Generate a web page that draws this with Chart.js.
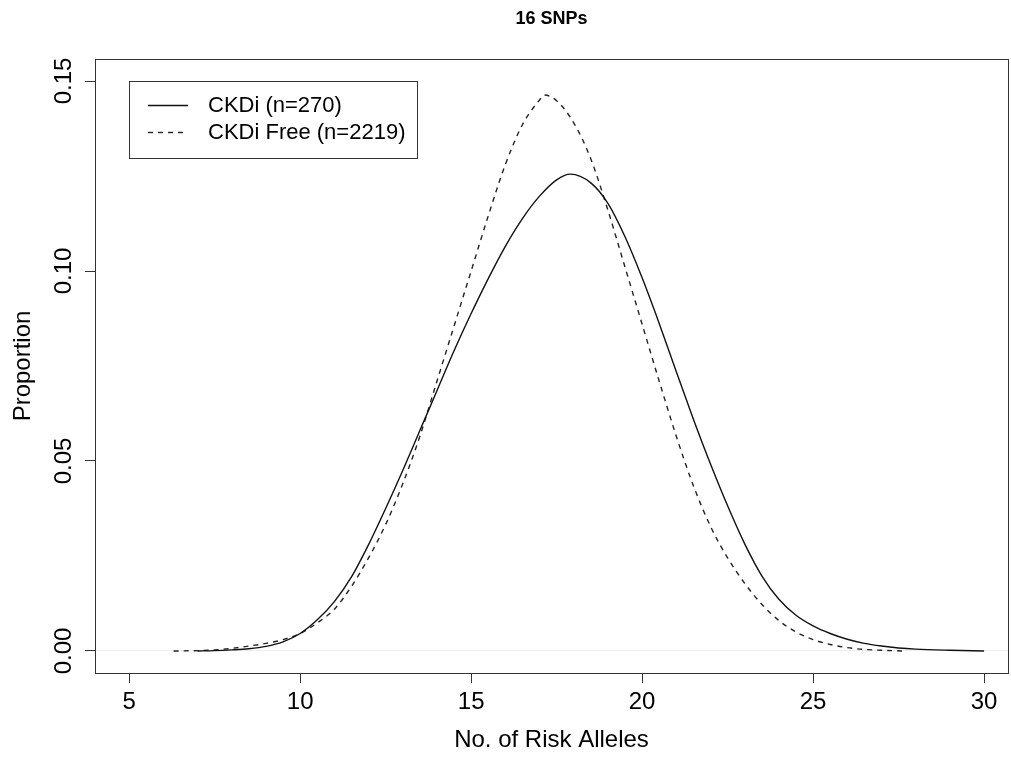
<!DOCTYPE html>
<html><head><meta charset="utf-8">
<script src="https://cdn.jsdelivr.net/npm/chart.js@4"></script>
<style>html,body{margin:0;padding:0;background:#fff}canvas{display:block}</style>
</head><body>
<canvas id="c" width="1011" height="758"></canvas>
<script>
const chartTitle = '16 SNPs';
const xTitle = 'No. of Risk Alleles';
const yTitle = 'Proportion';
const seriesLabels = ['CKDi (n=270)', 'CKDi Free (n=2219)'];

const xTicks = [5, 10, 15, 20, 25, 30];
const xTickLabels = ['5', '10', '15', '20', '25', '30'];
const yTicks = [0, 0.05, 0.10, 0.15];
const yTickLabels = ['0.00', '0.05', '0.10', '0.15'];

const ckdiX = [7.0, 7.5, 8.0, 8.5, 9.0, 9.5, 10.0, 10.5, 11.0, 11.5, 12.0, 12.5, 13.0, 13.5, 14.0, 14.5, 15.0, 15.5, 16.0, 16.5, 17.0, 17.5, 17.9, 18.5, 19.0, 19.5, 20.0, 20.5, 21.0, 21.5, 22.0, 22.5, 23.0, 23.5, 24.0, 24.5, 25.0, 25.5, 26.0, 26.5, 27.0, 27.5, 28.0, 29.0, 30.0];
const ckdiY = [0.0000, 0.0001, 0.0003, 0.0006, 0.0012, 0.0024, 0.0046, 0.0082, 0.0130, 0.0195, 0.0280, 0.0375, 0.0475, 0.0580, 0.0685, 0.0790, 0.0888, 0.0980, 0.1065, 0.1138, 0.1197, 0.1240, 0.1255, 0.1232, 0.1178, 0.1090, 0.0982, 0.0862, 0.0735, 0.0610, 0.0492, 0.0382, 0.0282, 0.0198, 0.0136, 0.0094, 0.0066, 0.0046, 0.0031, 0.0020, 0.0013, 0.0008, 0.0005, 0.0002, 0.0000];

const freeX = [6.3, 7.0, 7.5, 8.0, 8.5, 9.0, 9.5, 10.0, 10.5, 11.0, 11.5, 12.0, 12.5, 13.0, 13.5, 14.0, 14.5, 15.0, 15.5, 16.0, 16.5, 17.0, 17.15, 17.5, 18.0, 18.5, 19.0, 19.5, 20.0, 20.5, 21.0, 21.5, 22.0, 22.5, 23.0, 23.5, 24.0, 24.5, 25.0, 25.5, 26.0, 26.5, 27.0, 27.6];
const freeY = [0.0000, 0.0001, 0.0003, 0.0007, 0.0013, 0.0020, 0.0030, 0.0046, 0.0074, 0.0110, 0.0170, 0.0245, 0.0333, 0.0440, 0.0565, 0.0710, 0.0855, 0.1000, 0.1145, 0.1280, 0.1385, 0.1450, 0.1463, 0.1448, 0.1390, 0.1295, 0.1160, 0.1010, 0.0860, 0.0710, 0.0565, 0.0435, 0.0328, 0.0245, 0.0178, 0.0123, 0.0080, 0.0050, 0.0030, 0.0017, 0.0009, 0.0004, 0.0002, 0.0000];

const FONT = '"Liberation Sans", Arial, Helvetica, sans-serif';
Chart.defaults.color = '#000';
Chart.defaults.font.family = FONT;

const toPoints = (xs, ys) => xs.map((x, i) => ({x: x, y: ys[i]}));

const boxLegendPlugin = {
  id: 'boxLegend',
  afterDraw(chart) {
    const {ctx, chartArea: a} = chart;
    ctx.save();
    ctx.strokeStyle = '#333';
    ctx.lineWidth = 1;
    ctx.setLineDash([]);
    ctx.strokeRect(Math.round(a.left) + 0.5, Math.round(a.top) + 0.5,
                   Math.round(a.right - a.left), Math.round(a.bottom - a.top));
    const lx = Math.round(a.left) + 34, ly = Math.round(a.top) + 22;
    ctx.strokeRect(lx + 0.5, ly + 0.5, 288, 77);
    ctx.font = '22px ' + FONT;
    ctx.textBaseline = 'middle';
    ctx.textAlign = 'left';
    ctx.fillStyle = '#000';
    chart.data.datasets.forEach((ds, i) => {
      const y = ly + 24 + i * 27;
      ctx.strokeStyle = ds.borderColor;
      ctx.lineWidth = ds.borderWidth;
      ctx.setLineDash(ds.borderDash || []);
      ctx.beginPath();
      ctx.moveTo(lx + 19, y + 0.5);
      ctx.lineTo(lx + 59, y + 0.5);
      ctx.stroke();
      ctx.fillText(ds.label, lx + 79, y + 1);
    });
    ctx.restore();
  }
};

new Chart(document.getElementById('c'), {
  type: 'line',
  data: {
    datasets: [
      {label: seriesLabels[0], data: toPoints(ckdiX, ckdiY), borderColor: '#111', borderWidth: 1.4,
       pointRadius: 0, fill: false, cubicInterpolationMode: 'monotone'},
      {label: seriesLabels[1], data: toPoints(freeX, freeY), borderColor: '#222', borderWidth: 1.4,
       borderDash: [5, 5], pointRadius: 0, fill: false, cubicInterpolationMode: 'monotone'}
    ]
  },
  options: {
    responsive: false,
    animation: false,
    devicePixelRatio: 1,
    layout: {padding: {left: 0, right: 3, top: 0, bottom: 0}},
    plugins: {
      legend: {display: false},
      tooltip: {enabled: false},
      title: {display: true, text: chartTitle, fullSize: false,
              font: {size: 18, weight: 'bold', family: FONT}, color: '#000',
              padding: {top: 8.2, bottom: 29.2}}
    },
    scales: {
      x: {
        type: 'linear', position: 'bottom', min: 4.0, max: 30.7,
        afterBuildTicks: s => { s.ticks = xTicks.map(v => ({value: v})); },
        afterFit: s => { s.height = 85; },
        border: {display: false},
        grid: {drawOnChartArea: false, tickLength: 10, tickColor: '#333', lineWidth: 1},
        ticks: {font: {size: 24, family: FONT}, color: '#000', padding: 5, maxRotation: 0,
                autoSkip: false, callback: (v, i) => xTickLabels[i]},
        title: {display: true, text: xTitle, font: {size: 24, family: FONT}, color: '#000',
                padding: {top: 0, bottom: 3}}
      },
      y: {
        type: 'linear', position: 'left', min: -0.00579, max: 0.15579,
        afterBuildTicks: s => { s.ticks = yTicks.map(v => ({value: v})); },
        afterFit: s => { s.width = 95; },
        border: {display: false},
        grid: {drawOnChartArea: true, tickLength: 10, tickColor: '#333', lineWidth: 1,
               color: ctx => (ctx.tick && ctx.tick.value === 0) ? '#eeeeee' : 'rgba(0,0,0,0)'},
        ticks: {font: {size: 24, family: FONT}, color: '#000', padding: -3,
                minRotation: 90, maxRotation: 90, crossAlign: 'center', autoSkip: false,
                callback: (v, i) => yTickLabels[i]},
        title: {display: true, text: yTitle, font: {size: 24, family: FONT}, color: '#000',
                padding: {top: 8.6, bottom: 0}}
      }
    }
  },
  plugins: [boxLegendPlugin]
});
</script>
</body></html>
